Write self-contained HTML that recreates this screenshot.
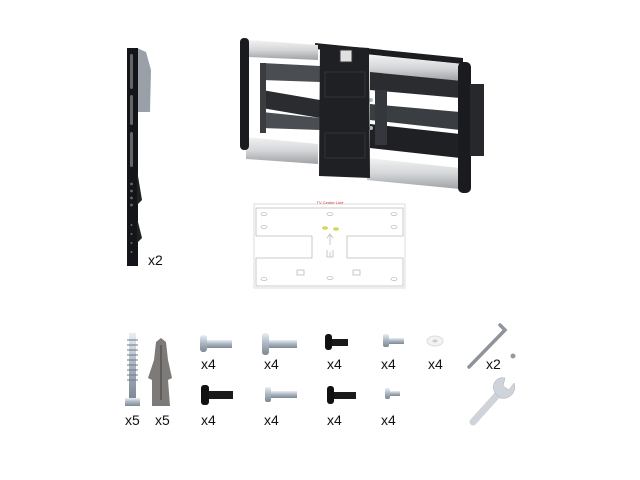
<!DOCTYPE html>
<html><head><meta charset="utf-8"><style>
html,body{margin:0;padding:0;background:#fff;}
svg{display:block}
text{font-family:"Liberation Sans",sans-serif;font-size:14px;fill:#111}
</style></head><body>
<svg width="640" height="480" viewBox="0 0 640 480" xmlns="http://www.w3.org/2000/svg">
<defs>
<linearGradient id="sil" x1="0" y1="0" x2="0" y2="1">
<stop offset="0" stop-color="#f2f2f2"/><stop offset="0.5" stop-color="#d4d6d8"/><stop offset="1" stop-color="#9ea2a6"/></linearGradient>
<linearGradient id="zinc" x1="0" y1="0" x2="0" y2="1">
<stop offset="0" stop-color="#e8eef4"/><stop offset="0.5" stop-color="#a9b4c0"/><stop offset="1" stop-color="#7d8894"/></linearGradient>
</defs>
<rect width="640" height="480" fill="#fff"/>

<!-- vertical bracket -->
<polygon points="137,48 146,52 151,70 150,112 137,112" fill="#9aa0a8"/>
<rect x="127" y="48" width="11" height="218" fill="#141518"/>
<polygon points="137,170 142,200 137,205" fill="#222"/>
<polygon points="137,218 142,238 137,243" fill="#222"/>
<g fill="#666">
<rect x="130" y="54" width="3" height="35" rx="1.5"/>
<rect x="130" y="95" width="3" height="30" rx="1.5"/>
<rect x="130" y="132" width="3" height="35" rx="1.5"/>
<circle cx="131.5" cy="184" r="1.4"/><circle cx="131.5" cy="191" r="1.4"/><circle cx="131.5" cy="198" r="1.4"/><circle cx="131.5" cy="205" r="1.4"/>
<circle cx="131.5" cy="225" r="1"/><circle cx="131.5" cy="234" r="1"/><circle cx="131.5" cy="243" r="1"/><circle cx="131.5" cy="252" r="1"/>
</g>
<text x="148" y="265">x2</text>

<!-- main arm bracket -->
<!-- arms -->
<polygon points="262,63 320,66 320,82 262,80" fill="#4a4d52"/>
<polygon points="262,90 320,100 320,118 262,108" fill="#2a2c30"/>
<polygon points="262,112 320,118 320,130 262,128" fill="#4a4d52"/>
<rect x="260" y="63" width="6" height="70" fill="#3a3c40"/>
<polygon points="370,70 460,80 460,98 370,90" fill="#2a2c30"/>
<polygon points="370,104 460,112 460,130 370,120" fill="#3a3d42"/>
<polygon points="370,124 460,134 460,158 370,148" fill="#1e2024"/>
<rect x="375" y="90" width="12" height="55" fill="#34373b"/>
<circle cx="371" cy="100" r="2" fill="#bbb"/><circle cx="371" cy="128" r="2" fill="#bbb"/>
<!-- top black strip -->
<polygon points="315,43 463,58 463,64 315,49" fill="#1c1d20"/>
<!-- rails -->
<polygon points="248,40 318,45 318,60 248,57" fill="url(#sil)"/>
<polygon points="370,55 462,64 462,81 370,72" fill="url(#sil)"/>
<polygon points="246,137 318,144 318,164 246,159" fill="url(#sil)"/>
<polygon points="367,158 460,168 460,189 367,180" fill="url(#sil)"/>
<!-- end caps -->
<rect x="240" y="38" width="9" height="112" rx="4" fill="#1a1b1e"/>
<rect x="458" y="62" width="13" height="131" rx="5" fill="#1a1b1e"/>
<rect x="470" y="84" width="14" height="72" fill="#26282c"/>
<!-- center plate -->
<polygon points="320,45 369,48 370,178 319,176" fill="#1f2024"/>
<rect x="340" y="50" width="12" height="12" fill="#e0e0e0" stroke="#333"/>
<rect x="325" y="72" width="40" height="25" fill="none" stroke="#333"/>
<rect x="325" y="133" width="40" height="25" fill="none" stroke="#333"/>

<!-- template -->
<rect x="254" y="204" width="151" height="84" fill="#fff" stroke="#ddd"/>
<text x="330" y="204" font-size="4" text-anchor="middle" style="font-size:4px;fill:#c33">TV Center Line</text>
<g fill="none" stroke="#bbb" stroke-width="0.8">
<path d="M256,208 H403 V236 H347 V258 H403 V286 H256 V258 H312 V236 H256 Z"/>
<rect x="297" y="270" width="7" height="5"/><rect x="353" y="270" width="7" height="5"/>
<path d="M330,245 V235 M327,238 L330,234 L333,238" />
<path d="M327,250 V257 H333 V250 M330,252 V257"/>
</g>
<g fill="#cfd85a"><ellipse cx="325" cy="228" rx="3" ry="1.8"/><ellipse cx="336" cy="229" rx="3" ry="1.8"/></g>
<g fill="none" stroke="#aaa" stroke-width="0.6">
<ellipse cx="264" cy="214" rx="3" ry="1.5"/><ellipse cx="264" cy="227" rx="3" ry="1.5"/><ellipse cx="394" cy="214" rx="3" ry="1.5"/><ellipse cx="394" cy="227" rx="3" ry="1.5"/>
<ellipse cx="330" cy="214" rx="3" ry="1.5"/><ellipse cx="264" cy="279" rx="3" ry="1.5"/><ellipse cx="394" cy="279" rx="3" ry="1.5"/><ellipse cx="330" cy="278" rx="3" ry="1.5"/>
</g>

<!-- lag bolt -->
<rect x="129" y="333" width="7" height="66" fill="url(#zinc)"/>
<g stroke="#6f7a86" stroke-width="1">
<path d="M127,340 H138 M127,345 H138 M127,350 H138 M127,355 H138 M127,360 H138 M127,365 H138 M127,370 H138 M127,375 H138 M127,380 H138"/>
</g>
<rect x="125" y="398" width="15" height="8" fill="url(#zinc)"/>
<!-- anchor -->
<polygon points="156,342 161,338 166,342 168,360 172,378 168,380 170,406 152,406 152,380 148,378 154,360" fill="#7d7a78"/>
<path d="M161,345 V400" stroke="#555" stroke-width="1.5"/>
<text x="125" y="425">x5</text><text x="155" y="425">x5</text>

<!-- row1 screws -->
<rect x="206" y="340" width="26" height="8" fill="url(#zinc)"/><rect x="200" y="335" width="7" height="17" rx="3" fill="url(#zinc)"/>
<rect x="268" y="340" width="29" height="8" fill="url(#zinc)"/><rect x="262" y="333" width="7" height="22" rx="3" fill="url(#zinc)"/>
<rect x="331" y="339" width="17" height="7" fill="#1a1a1a"/><rect x="325" y="334" width="7" height="16" rx="3" fill="#111"/>
<rect x="388" y="338" width="16" height="6" fill="url(#zinc)"/><rect x="383" y="334" width="6" height="13" rx="2" fill="url(#zinc)"/>
<ellipse cx="435" cy="341" rx="8" ry="5" fill="#f2f2f2" stroke="#ddd"/><ellipse cx="435" cy="341" rx="2.5" ry="1.5" fill="#ccc"/>
<path d="M469,367 L505,330 L500,325" fill="none" stroke="#8d949b" stroke-width="3.5" stroke-linecap="round"/>
<circle cx="513" cy="356" r="2.5" fill="#999"/>
<text x="201" y="369">x4</text><text x="264" y="369">x4</text><text x="327" y="369">x4</text><text x="381" y="369">x4</text><text x="428" y="369">x4</text><text x="486" y="369">x2</text>

<!-- row2 screws -->
<rect x="208" y="391" width="25" height="8" fill="#1a1a1a"/><rect x="201" y="385" width="8" height="20" rx="3" fill="#111"/>
<rect x="270" y="391" width="27" height="7" fill="url(#zinc)"/><rect x="265" y="387" width="6" height="15" rx="2" fill="url(#zinc)"/>
<rect x="333" y="392" width="23" height="7" fill="#1a1a1a"/><rect x="327" y="386" width="7" height="18" rx="3" fill="#111"/>
<rect x="389" y="391" width="11" height="5" fill="url(#zinc)"/><rect x="385" y="388" width="5" height="11" rx="2" fill="url(#zinc)"/>
<text x="201" y="425">x4</text><text x="264" y="425">x4</text><text x="327" y="425">x4</text><text x="381" y="425">x4</text>

<!-- wrench -->
<path d="M473,422 L500,392" stroke="#cfd4da" stroke-width="7" stroke-linecap="round"/>
<path d="M495,393 C490,383 498,376 505,378 L503,386 L509,390 L514,383 C517,392 510,400 500,398 Z" fill="#cfd4da" stroke="#aab" stroke-width="0.5"/>
</svg>
</body></html>
